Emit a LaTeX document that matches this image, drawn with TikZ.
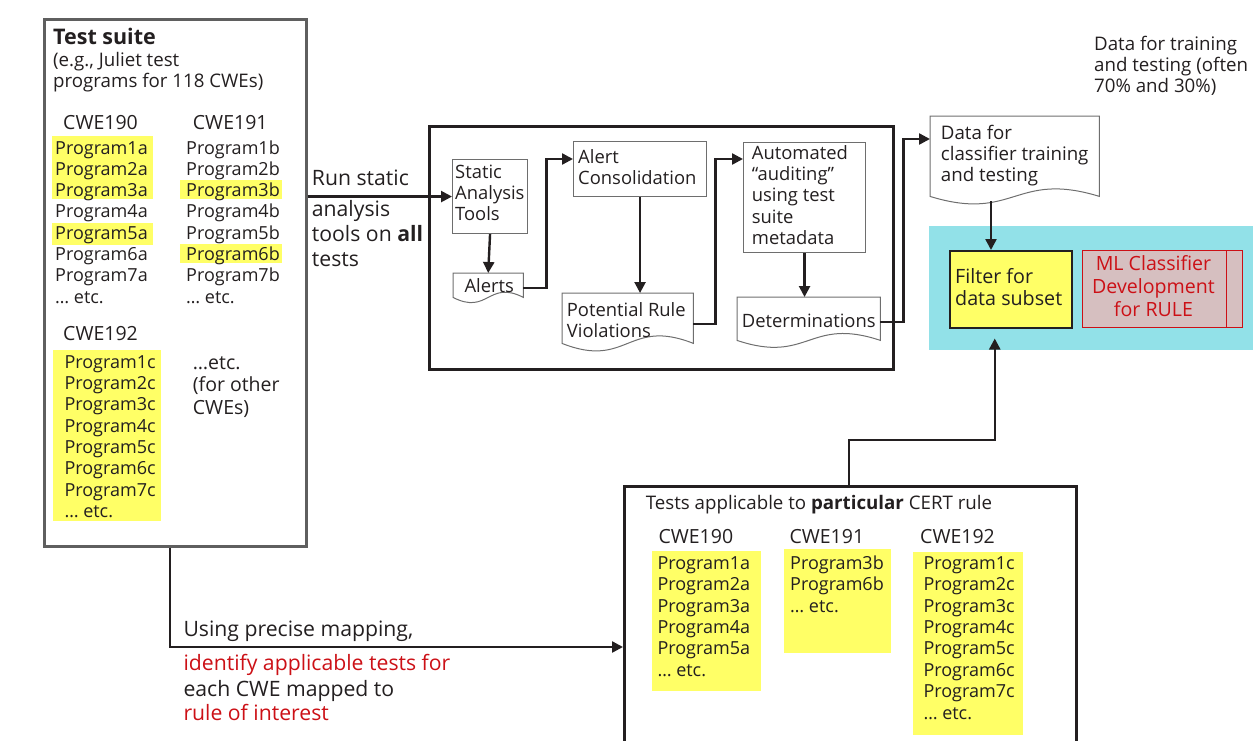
\documentclass[tikz,border=0pt]{standalone}
\usepackage{fontspec}
\setmainfont{Open Sans}
\usetikzlibrary{arrows.meta,calc}
\definecolor{ink}{HTML}{231F20}
\definecolor{hl}{HTML}{FFFF66}
\definecolor{cyanbg}{HTML}{92E1E8}
\definecolor{mlfill}{HTML}{D6BFC0}
\definecolor{redtxt}{HTML}{CC1016}
\definecolor{framegray}{HTML}{5F5F5F}
\definecolor{boxgray}{HTML}{6E6E6E}
\newcommand\wavedoc[2]{%
  \draw[line width=1pt, draw=boxgray] (#1.south west) -- (#1.north west) -- (#1.north east) -- (#1.south east)
    .. controls ($(#1.south east)!0.5!(#1.south west)+(0,-#2)$) and ($(#1.south east)!0.5!(#1.south west)+(0,#2)$) .. (#1.south west) -- cycle;}
\newcommand\fs[1]{\fontsize{#1}{20}\selectfont}
\begin{document}
\begin{tikzpicture}[x=1pt,y=-1pt,
  txt/.style={inner sep=0pt, anchor=base west, text=ink, font=\fs{18.7}},
  prog/.style={txt, font=\fs{18}},
  head/.style={txt, font=\fs{19.5}},
  ptxt/.style={txt, font=\fs{18.4}},
  big/.style={txt, font=\fs{21.2}},
  conn/.style={draw=ink, line width=2.4pt, -{Triangle[length=11pt,width=11pt]}},
  plainbox/.style={draw=boxgray, line width=1.1pt, inner sep=0pt, anchor=north west},
  emptybox/.style={draw=none, inner sep=0pt, anchor=north west},
]
\useasboundingbox (0,0) rectangle (1253,740);

% ---------- Test suite ----------
\node[draw=framegray, line width=2.5pt, inner sep=0pt, anchor=north west, minimum width=262, minimum height=527] (suite) at (43,18) {};
\fill[hl] (52,136) rectangle (153,199);
\fill[hl] (52,223) rectangle (153,245);
\fill[hl] (180,180) rectangle (282,199);
\fill[hl] (180,244) rectangle (282,263);
\fill[hl] (53,350) rectangle (161,521);
\node[txt, font=\fs{21.5}\bfseries] (title) at (53,44.3) {Test suite};
\node[txt] (eg1) at (53,66) {(e.g., Juliet test};
\node[txt] (eg2) at (53,87.3) {programs for 118 CWEs)};
\node[head] (c190) at (63,129.3) {CWE190};
\node[head] (c191) at (192.7,129.3) {CWE191};
\foreach \t [count=\i from 0] in {Program1a,Program2a,Program3a,Program4a,Program5a,Program6a,Program7a,{… etc.}}
  \node[prog] (pa\i) at (55,{154+21.3*\i}) {\t};
\foreach \t [count=\i from 0] in {Program1b,Program2b,Program3b,Program4b,Program5b,Program6b,Program7b,{… etc.}}
  \node[prog] (pb\i) at (186,{154+21.3*\i}) {\t};
\node[head] (c192) at (63,340.7) {CWE192};
\foreach \t [count=\i from 0] in {Program1c,Program2c,Program3c,Program4c,Program5c,Program6c,Program7c,{… etc.}}
  \node[prog] (pc\i) at (64.3,{368.3+21.3*\i}) {\t};
\node[head] (oth1) at (192.7,369) {…etc.};
\node[head] (oth2) at (192.7,391.5) {(for other};
\node[head] (oth3) at (192.7,414) {CWEs)};

% ---------- run label ----------
\node[big] (run1) at (311.7,185) {Run static};
\node[big] (run2) at (311.7,216.7) {analysis};
\node[big] (run3) at (311.7,241.5) {tools on \textbf{all}};
\node[big] (run4) at (311.7,266.5) {tests};

% ---------- Pipeline ----------
\node[draw=ink, line width=2.5pt, inner sep=0pt, anchor=north west, minimum width=464, minimum height=243] (pipe) at (428,125) {};
\node[plainbox, minimum width=75, minimum height=74] (sat) at (452,159) {};
\node[ptxt] (sat1) at (455,178.3) {Static};
\node[ptxt] (sat2) at (455,199.6) {Analysis};
\node[ptxt] (sat3) at (455,220.9) {Tools};
\node[emptybox, minimum width=70, minimum height=24] (alerts) at (453,273) {};
\wavedoc{alerts}{18}
\node[ptxt] (alertst) at (464.3,292.7) {Alerts};
\node[plainbox, minimum width=133, minimum height=55] (ac) at (573,141) {};
\node[ptxt] (ac1) at (578,163.3) {Alert};
\node[ptxt] (ac2) at (578,184.6) {Consolidation};
\node[emptybox, minimum width=131, minimum height=50] (prv) at (562,293) {};
\wavedoc{prv}{26}
\node[ptxt] (prv1) at (566.7,316.7) {Potential Rule};
\node[ptxt] (prv2) at (566.7,337.5) {Violations};
\node[plainbox, minimum width=122, minimum height=110] (auto) at (743,142) {};
\foreach \t [count=\i from 0] in {Automated,{“auditing”},using test,suite,metadata}
  \node[ptxt] (au\i) at (751.7,{159.3+21.3*\i}) {\t};
\node[emptybox, minimum width=143, minimum height=43] (det) at (737,297) {};
\wavedoc{det}{24}
\node[ptxt] (dett) at (741.7,327.3) {Determinations};

% ---------- Right side ----------
\node[txt] (tr1) at (1094,50.7) {Data for training};
\node[txt] (tr2) at (1094,71.7) {and testing (often};
\node[txt] (tr3) at (1094,92.7) {70\% and 30\%)};
\node[emptybox, minimum width=169, minimum height=80] (data) at (930,116) {};
\wavedoc{data}{26}
\node[txt] (d1) at (940.7,139.3) {Data for};
\node[txt] (d2) at (940.7,160.6) {classifier training};
\node[txt] (d3) at (940.7,181.9) {and testing};
\node[fill=cyanbg, inner sep=0pt, anchor=north west, minimum width=324, minimum height=124] (cyanarea) at (929,226) {};
\node[draw=ink, fill=hl, line width=1.5pt, inner sep=0pt, anchor=north west, minimum width=122, minimum height=77] (filter) at (949,250) {};
\node[txt, font=\fs{19.7}] (f1) at (955,283.3) {Filter for};
\node[txt, font=\fs{19.7}] (f2) at (955,305) {data subset};
\node[draw=redtxt, fill=mlfill, line width=1.2pt, inner sep=0pt, anchor=north west, minimum width=160, minimum height=77] (ml) at (1082,250) {};
\draw[draw=redtxt, line width=1.2pt] ($(ml.north east)+(-17,0)$) -- ($(ml.south east)+(-17,0)$);
\node[txt, anchor=base, text=redtxt, font=\fs{19.6}] (m1) at (1153.5,270) {ML Classifier};
\node[txt, anchor=base, text=redtxt, font=\fs{19.6}] (m2) at (1153.5,293.3) {Development};
\node[txt, anchor=base, text=redtxt, font=\fs{19.6}] (m3) at (1153.5,316.7) {for RULE};

% ---------- Bottom box ----------
\node[draw=ink, line width=2.5pt, inner sep=0pt, anchor=north west, minimum width=452, minimum height=290] (tests) at (623,485) {};
\fill[hl] (652,551) rectangle (761,691);
\fill[hl] (784,549) rectangle (891,653);
\fill[hl] (913,552) rectangle (1023,735);
\node[txt] (tt) at (645.7,509.3) {Tests applicable to \textbf{particular} CERT rule};
\node[head] (b190) at (658.3,543.3) {CWE190};
\node[head] (b191) at (789.3,543.3) {CWE191};
\node[head] (b192) at (920,543.3) {CWE192};
\foreach \t [count=\i from 0] in {Program1a,Program2a,Program3a,Program4a,Program5a,{… etc.}}
  \node[prog] (qa\i) at (657.3,{569.3+21.4*\i}) {\t};
\foreach \t [count=\i from 0] in {Program3b,Program6b,{… etc.}}
  \node[prog] (qb\i) at (790,{569.3+21.4*\i}) {\t};
\foreach \t [count=\i from 0] in {Program1c,Program2c,Program3c,Program4c,Program5c,Program6c,Program7c,{… etc.}}
  \node[prog] (qc\i) at (923.3,{569.3+21.4*\i}) {\t};

% ---------- mapping label ----------
\node[big] (map1) at (183.3,636.7) {Using precise mapping,};
\node[big, text=redtxt] (map2) at (183.3,670) {identify applicable tests for};
\node[big] (map3) at (183.3,696.5) {each CWE mapped to};
\node[big, text=redtxt] (map4) at (183.3,720) {rule of interest};

% ---------- connectors ----------
\coordinate (acin) at ($(ac.north west)+(0,18)$);
\coordinate (auin) at ($(auto.north west)+(0,17)$);
\coordinate (datain) at ($(data.north west)+(0,23)$);
\coordinate (dataout) at ($(data.south west)+(61,5)$);
\coordinate (filterin) at ($(filter.south)+(-16,10)$);
\coordinate (testsin) at ($(tests.north west)+(0,162)$);
\draw[conn] (suite.east |- sat.west) -- (sat.west);
\draw[conn] (sat.south) -- (alerts.north);
\draw[conn] ($(alerts.north east)+(0,15)$) -- ++(23,0) |- (acin);
\draw[conn] (ac.south) -- (ac.south |- prv.north);
\draw[conn] ($(prv.north east)+(0,31)$) -- ++(22,0) |- (auin);
\draw[conn] (auto.south) -- (auto.south |- det.north);
\draw[conn] ($(det.north east)+(0,25)$) -- ++(23,0) |- (datain);
\draw[conn] (dataout) -- (dataout |- filter.north);
\draw[conn] ($(tests.north west)+(226,0)$) -- ++(0,-45) -| (filterin);
\draw[conn] ($(suite.south west)+(127,0)$) |- (testsin);
\end{tikzpicture}
\end{document}
